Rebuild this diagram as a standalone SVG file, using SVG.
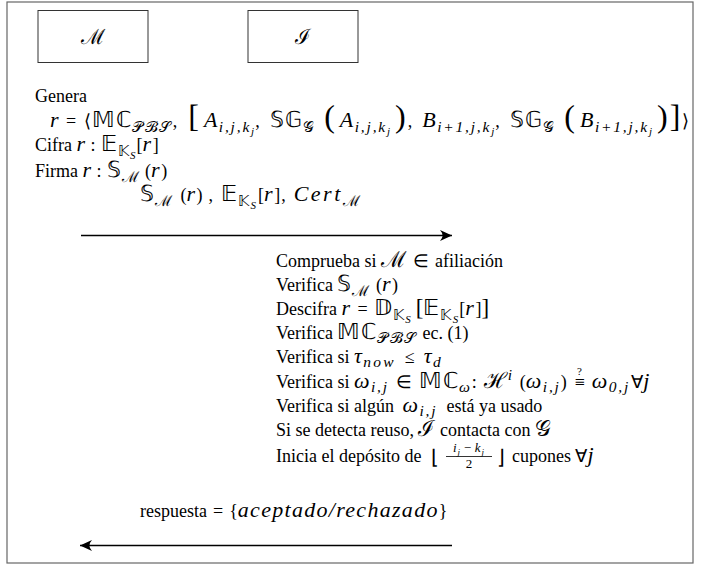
<svg xmlns="http://www.w3.org/2000/svg" width="708" height="564" viewBox="0 0 708 564">
<style>
.t{font-family:"Liberation Serif","Times New Roman",serif;font-size:18px;fill:#000}
.m{font-style:italic;font-size:22px;letter-spacing:1.5px}
.bb{font-size:22px;letter-spacing:1px}
.s{font-size:15px;letter-spacing:1.5px}
.si{font-size:15.5px;font-style:italic;letter-spacing:1.8px}
.ss{font-size:11px;font-style:italic}
.fr{font-size:13px;font-style:italic;letter-spacing:1px}
.big{font-size:32px}
.mid{font-size:23px}
.box{fill:#fff;stroke:#333;stroke-width:1}
.frame{fill:#fff;stroke:#666;stroke-width:1.2}
.conn{stroke:#000;stroke-width:1.3;fill:none}
</style>
<defs>
<marker id="ah" viewBox="-13 -6 14 12" refX="0" refY="0" markerWidth="14" markerHeight="12" markerUnits="userSpaceOnUse" orient="auto">
<path d="M0,0 L-12,-5.5 Q-7,0 -12,5.5 Z" fill="#000"/>
</marker>
</defs>
<rect class="frame" x="7" y="2" width="686" height="561"/>
<g id="node-M">
<rect class="box" x="38" y="10.5" width="110" height="52"/>
<text class="t" x="93" y="44" text-anchor="middle" style="font-size:21px">ℳ</text>
</g>
<g id="node-I">
<rect class="box" x="248" y="10.5" width="110" height="52"/>
<text class="t" x="303" y="44" text-anchor="middle" style="font-size:21px">ℐ</text>
</g>
<g id="connectors">
<line class="conn" x1="81" y1="235.5" x2="452" y2="235.5" marker-end="url(#ah)"/>
<line class="conn" x1="452" y1="545.5" x2="80" y2="545.5" marker-end="url(#ah)"/>
</g>
<g id="labels-M">
<text class="t" x="35" y="102">Genera</text>
<text class="t" x="50" y="127"><tspan class="m">r</tspan><tspan dx="6">=</tspan><tspan dx="8">⟨</tspan><tspan class="bb" dx="1">𝕄ℂ</tspan><tspan class="s" dy="5">𝒫ℬ𝒮</tspan><tspan dy="-5">,</tspan><tspan class="big" dx="11">[</tspan><tspan class="m" dx="5">A</tspan><tspan class="si" dy="5">i,j,k</tspan><tspan class="ss" dy="3">j</tspan><tspan dy="-8" dx="1">,</tspan><tspan class="bb" dx="10">𝕊𝔾</tspan><tspan class="s" dy="5">𝒢</tspan><tspan class="big" dy="-5" dx="9">(</tspan><tspan class="m" dx="5">A</tspan><tspan class="si" dy="5">i,j,k</tspan><tspan class="ss" dy="3">j</tspan><tspan class="big" dy="-8" dx="5">)</tspan><tspan dx="2">,</tspan><tspan class="m" dx="10">B</tspan><tspan class="si" dy="5">i+1,j,k</tspan><tspan class="ss" dy="3">j</tspan><tspan dy="-8" dx="1">,</tspan><tspan class="bb" dx="10">𝕊𝔾</tspan><tspan class="s" dy="5">𝒢</tspan><tspan class="big" dy="-5" dx="9">(</tspan><tspan class="m" dx="5">B</tspan><tspan class="si" dy="5">i+1,j,k</tspan><tspan class="ss" dy="3">j</tspan><tspan class="big" dy="-8" dx="5">)</tspan><tspan class="big" dx="2">]</tspan><tspan dx="2">⟩</tspan></text>
<text class="t" x="35" y="151">Cifra <tspan class="m">r</tspan><tspan dx="4">:</tspan><tspan class="bb" dx="5">𝔼</tspan><tspan class="s" dy="5">𝕂</tspan><tspan class="ss" dy="3">S</tspan><tspan dy="-8" dx="1">[</tspan><tspan class="m">r</tspan>]</text>
<text class="t" x="35" y="177">Firma <tspan class="m">r</tspan><tspan dx="4">:</tspan><tspan class="bb" dx="5">𝕊</tspan><tspan class="s" dy="5">ℳ</tspan><tspan dy="-5" dx="5">(</tspan><tspan class="m">r</tspan>)</text>
<text class="t" x="140" y="201"><tspan class="bb">𝕊</tspan><tspan class="s" dy="5">ℳ</tspan><tspan dy="-5" dx="7">(</tspan><tspan class="m">r</tspan>)<tspan dx="6">,</tspan><tspan class="bb" dx="8">𝔼</tspan><tspan class="s" dy="5">𝕂</tspan><tspan class="ss" dy="3">S</tspan><tspan dy="-8" dx="2">[</tspan><tspan class="m">r</tspan>]<tspan dx="1">,</tspan><tspan class="m" dx="8" style="letter-spacing:2.5px">Cert</tspan><tspan class="s" dy="5">ℳ</tspan></text>
</g>
<g id="labels-I">
<text class="t" x="276" y="267">Comprueba si <tspan class="bb">ℳ</tspan><tspan dx="6">∈</tspan><tspan dx="6">afiliación</tspan></text>
<text class="t" x="276" y="291">Verifica <tspan class="bb">𝕊</tspan><tspan class="s" dy="5">ℳ</tspan><tspan dy="-5" dx="5">(</tspan><tspan class="m">r</tspan>)</text>
<text class="t" x="276" y="315">Descifra <tspan class="m">r</tspan><tspan dx="6">=</tspan><tspan class="bb" dx="6">𝔻</tspan><tspan class="s" dy="5">𝕂</tspan><tspan class="ss" dy="3">S</tspan><tspan class="mid" dy="-8" dx="5">[</tspan><tspan class="bb">𝔼</tspan><tspan class="s" dy="5">𝕂</tspan><tspan class="ss" dy="3">S</tspan><tspan dy="-8" dx="1">[</tspan><tspan class="m">r</tspan>]<tspan class="mid">]</tspan></text>
<text class="t" x="276" y="339">Verifica <tspan class="bb">𝕄ℂ</tspan><tspan class="s" dy="4">𝒫ℬ𝒮</tspan><tspan dy="-4"> ec. (1)</tspan></text>
<text class="t" x="276" y="363">Verifica si <tspan class="m">τ</tspan><tspan class="si" dy="4" style="letter-spacing:2.2px">now</tspan><tspan dy="-4" dx="9">≤</tspan><tspan class="m" dx="9">τ</tspan><tspan class="si" dy="4">d</tspan></text>
<text class="t" x="276" y="388">Verifica si <tspan class="m">ω</tspan><tspan class="si" dy="4">i,j</tspan><tspan dy="-4" dx="7">∈</tspan><tspan class="bb" dx="7">𝕄ℂ</tspan><tspan class="si" dy="4">ω</tspan><tspan dy="-4">:</tspan><tspan class="bb" dx="7">ℋ</tspan><tspan class="si" dy="-8">i</tspan><tspan dy="8" dx="6">(</tspan><tspan class="m">ω</tspan><tspan class="si" dy="4">i,j</tspan><tspan dy="-4">)</tspan><tspan dx="8">≡</tspan><tspan class="ss" dx="-8" dy="-13" style="font-style:normal">?</tspan><tspan dx="10" dy="13" class="m">ω</tspan><tspan class="si" dy="4">0,j</tspan><tspan dy="-4" dx="1">∀</tspan><tspan class="m">j</tspan></text>
<text class="t" x="276" y="412">Verifica si algún <tspan class="m" dx="4">ω</tspan><tspan class="si" dy="4">i,j</tspan><tspan dy="-4" dx="9">está ya usado</tspan></text>
<text class="t" x="276" y="436">Si se detecta reuso, <tspan class="bb">ℐ</tspan> contacta con <tspan class="bb">𝒢</tspan></text>
<text class="t" x="276" y="462">Inicia el depósito de</text>
<text class="t" x="431" y="464" style="font-size:20px">⌊</text>
<text class="t fr" x="469" y="452" text-anchor="middle">i<tspan class="ss" dy="3" style="font-size:9px">j</tspan><tspan dy="-3" dx="2">−</tspan><tspan dx="2">k</tspan><tspan class="ss" dy="3" style="font-size:9px">j</tspan></text>
<line x1="446" y1="456.5" x2="492" y2="456.5" stroke="#000" stroke-width="0.8"/>
<text class="t" x="469" y="468" text-anchor="middle" style="font-size:13px">2</text>
<text class="t" x="497" y="464" style="font-size:20px">⌋</text>
<text class="t" x="512" y="462">cupones ∀<tspan class="m">j</tspan></text>
<text class="t" x="140" y="517">respuesta<tspan dx="6">=</tspan><tspan dx="6">{</tspan><tspan class="m" style="letter-spacing:1.3px">aceptado/rechazado</tspan>}</text>
</g>
</svg>
